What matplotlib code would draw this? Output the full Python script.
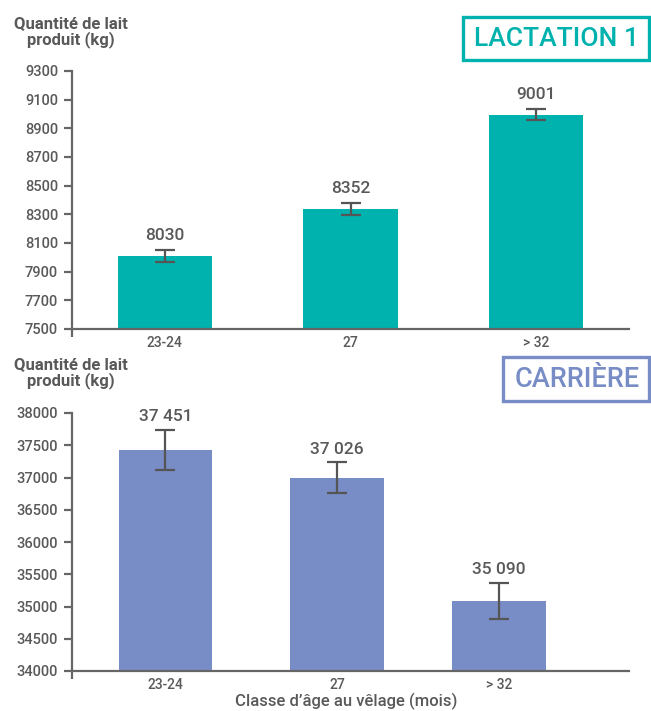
import matplotlib.pyplot as plt
from matplotlib.patches import Rectangle

# Data
categories = ['23-24', '27', '> 32']
lact_values = [8010, 8335, 8995]
lact_errors = [42, 42, 38]
lact_labels = ['8030', '8352', '9001']
carr_values = [37430, 37000, 35085]
carr_errors = [310, 235, 280]
carr_labels = ['37 451', '37 026', '35 090']

TEAL = '#00B2AE'
BLUE = '#788CC6'
TEXT = '#595959'
AXIS = '#666666'
W, H = 651, 711

plt.rcParams['font.family'] = ['Roboto', 'DejaVu Sans']


def fx(px):
    return px / W


def fy(py):
    return 1 - py / H


def draw_panel(ax, values, errors, labels, color, xpos, width, xlim, ylim, step, offset):
    ax.bar(xpos, values, width=width, color=color, zorder=2)
    ax.errorbar(xpos, values, yerr=errors, fmt='none', ecolor='#555555',
                elinewidth=1.6, capsize=7, capthick=1.6, zorder=3)
    for x, v, e, t in zip(xpos, values, errors, labels):
        ax.annotate(t, (x, v + e), xytext=(0, offset), textcoords='offset points',
                    ha='center', va='bottom', fontsize=12.5, color=TEXT,
                    fontweight='medium')
    ax.set_xlim(*xlim)
    ax.set_ylim(*ylim)
    ax.set_yticks(range(ylim[0], ylim[1] + 1, step))
    ax.set_xticks(xpos)
    ax.set_xticklabels(categories)
    ax.set_xticks([xlim[0]], minor=True)
    ax.tick_params(axis='x', which='major', length=0, pad=5, labelsize=10, labelcolor=TEXT)
    ax.tick_params(axis='x', which='minor', length=6, width=1.6, color=AXIS)
    ax.tick_params(axis='y', length=6, width=1.6, color=AXIS, labelsize=10.5, labelcolor=TEXT, pad=4)
    for s in ['top', 'right']:
        ax.spines[s].set_visible(False)
    for s in ['left', 'bottom']:
        ax.spines[s].set_color(AXIS)
        ax.spines[s].set_linewidth(1.6)
    for lab in ax.get_yticklabels() + ax.get_xticklabels():
        lab.set_fontweight('medium')


fig = plt.figure(figsize=(W / 100, H / 100), dpi=100)

ax1 = fig.add_axes([fx(72), fy(329), fx(629) - fx(72), fy(71) - fy(329)])
draw_panel(ax1, lact_values, lact_errors, lact_labels, TEAL,
           [0, 1, 2], 0.507, (-0.5, 2.5), (7500, 9300), 200, 5)

ax2 = fig.add_axes([fx(72), fy(671), fx(629) - fx(72), fy(413) - fy(671)])
draw_panel(ax2, carr_values, carr_errors, carr_labels, BLUE,
           [0, 1.03, 2.0], 0.56, (-0.56, 2.78), (34000, 38000), 500, 4)

# y titles
for ytop in (32, 373):
    fig.text(fx(71), fy(ytop), 'Quantité de lait\nproduit (kg)', ha='center', va='center',
             multialignment='center', fontsize=12, fontweight='bold', color=TEXT,
             linespacing=0.95)

# framed panel titles
fig.patches.append(Rectangle((fx(463), fy(60)), fx(649) - fx(463), fy(17) - fy(60),
                             transform=fig.transFigure, fill=False, edgecolor=TEAL,
                             linewidth=2.4))
fig.text(fx(557), fy(39), 'LACTATION 1', ha='center', va='center', fontsize=19,
         color=TEAL, fontweight='medium')
fig.patches.append(Rectangle((fx(503), fy(401)), fx(649) - fx(503), fy(357) - fy(401),
                             transform=fig.transFigure, fill=False, edgecolor=BLUE,
                             linewidth=2.4))
fig.text(fx(577), fy(380), 'CARRIÈRE', ha='center', va='center', fontsize=19.5,
         color=BLUE, fontweight='medium')

fig.text(fx(346), fy(706), 'Classe d\u2019âge au vêlage (mois)', ha='center', va='baseline',
         fontsize=12, fontweight='medium', color=TEXT)

fig.savefig('out.png', dpi=100)
